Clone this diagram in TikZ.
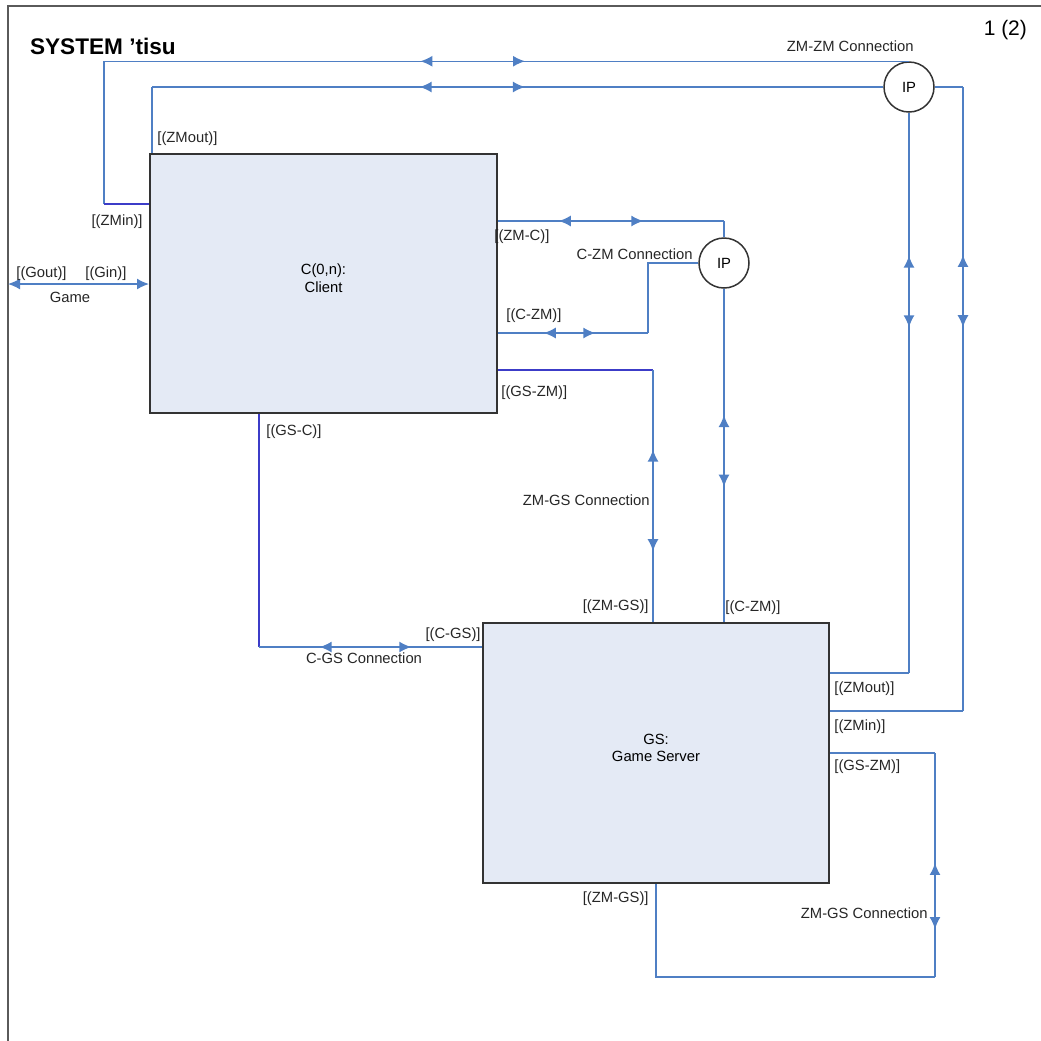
\documentclass[tikz,border=0pt]{standalone}
\usepackage{fontspec}
\setmainfont{Liberation Sans}
\usepackage{xcolor}
\usepackage{tikz}
\usetikzlibrary{arrows.meta,calc,positioning,fit,decorations.markings}
\definecolor{linkblue}{HTML}{4F7FC4}
\definecolor{portblue}{HTML}{3C3CC8}
\definecolor{boxfill}{HTML}{E4EAF5}
\definecolor{framegray}{HTML}{5A5A5A}
\newcommand{\lbl}{\fontsize{7.4}{8.8}\selectfont}
\tikzset{
  conn/.style={draw,color=linkblue,line width=0.75pt},
  twoway/.style 2 args={postaction={decorate,decoration={markings,
    mark=at position #1 with {\arrowreversed{Latex[length=6pt,width=5.5pt]}},
    mark=at position #2 with {\arrow{Latex[length=6pt,width=5.5pt]}}}}},
  block/.style={draw=black!80,line width=1pt,fill=boxfill,inner sep=0pt,align=center,font=\lbl},
  ipnode/.style={circle,draw=black!80,line width=0.75pt,fill=white,minimum size=25pt,inner sep=0pt,font=\lbl},
  port/.style={font=\lbl,inner sep=0pt,text=black!85},
}

\begin{document}
\begin{tikzpicture}[x=0.5pt,y=-0.5pt,>=Latex]
  \useasboundingbox (0,0) rectangle (1041,1041);
  \draw[framegray,line width=1pt] (8,1041) -- (8,6) -- (1041,6);
  \node[anchor=west,font=\fontsize{11.3}{13}\selectfont\bfseries] (title) at (23,46) {SYSTEM ’tisu};
  \node[anchor=east,font=\fontsize{10.5}{12}\selectfont] (page) at (1034,30) {1 (2)};

  % blocks and interaction points
  \node[block,fit={(150,154)(497,413)}] (client) {C(0,n):\\Client};
  \node[block,fit={(483,623)(829,883)}] (server) {GS:\\Game Server};
  \node[ipnode] (ipzz) at (909,87) {IP};
  \node[ipnode] (ipcz) at (724,263) {IP};

  \coordinate (zminC) at (104,204);
  \coordinate (zmoutC) at (152,87);
  \coordinate (zminS) at (963,711);
  \coordinate (zmoutS) at (909,673);
  \coordinate (zmc) at (724,221);
  \coordinate (czm) at (648,333);
  \coordinate (gszm) at (653,370);
  \coordinate (gsc) at (259,647);
  \coordinate (loopA) at (935,753);
  \coordinate (loopB) at (656,977);
  \coordinate (gameL) at (8,284);

  % ZM-ZM connection
  \draw[conn,twoway={0.477}{0.607}] (ipzz.north) -- (ipzz.north -| zminC);
  \draw[conn] (ipzz.north -| zminC) -- (zminC);
  \draw[conn,portblue] (zminC) -- (zminC -| client.west);
  \draw[conn,twoway={0.49}{0.634}] (ipzz.west) -- (zmoutC);
  \draw[conn] (zmoutC) -- (zmoutC |- client.north);
  \draw[conn] (ipzz.east) -- (ipzz.east -| zminS);
  \draw[conn,twoway={0.269}{0.385}] (ipzz.east -| zminS) -- (zminS);
  \draw[conn] (zminS) -- (zminS -| server.east);
  \draw[conn,twoway={0.255}{0.383}] (ipzz.south) -- (zmoutS);
  \draw[conn] (zmoutS) -- (zmoutS -| server.east);

  % C-ZM connection
  \draw[conn,twoway={0.269}{0.643}] (zmc -| client.east) -- (zmc);
  \draw[conn] (zmc) -- (ipcz.north);
  \draw[conn] (ipcz.west) -| (czm);
  \draw[conn,twoway={0.351}{0.695}] (czm) -- (czm -| client.east);
  \draw[conn,twoway={0.379}{0.594}] (ipcz.south) -- (ipcz.south |- server.north);

  % ZM-GS and C-GS connections
  \draw[conn,portblue] (gszm -| client.east) -- (gszm);
  \draw[conn,twoway={0.316}{0.719}] (gszm) -- (gszm |- server.north);
  \draw[conn,portblue] (gsc |- client.south) -- (gsc);
  \draw[conn,twoway={0.272}{0.683}] (gsc) -- (gsc -| server.west);
  \draw[conn,{Latex[length=6pt,width=5.5pt]}-{Latex[length=6pt,width=5.5pt]}] (gameL) -- (gameL -| client.west);
  \draw[conn] (loopA -| server.east) -- (loopA);
  \draw[conn,twoway={0.491}{0.786}] (loopA) -- (loopA |- loopB);
  \draw[conn] (loopA |- loopB) -- (loopB) -- (loopB |- server.south);

  % gate and connection labels
  \node[port,anchor=east] (lzmzm) at (914,46) {ZM-ZM Connection};
  \node[port,anchor=west] (lzmoutC) at (157,139) {[(ZMout)]};
  \node[port,anchor=east] (lzminC) at (143,222) {[(ZMin)]};
  \node[port,anchor=west] (lgout) at (16,274) {[(Gout)]};
  \node[port,anchor=west] (lgin) at (85,274) {[(Gin)]};
  \node[port] (lgame) at (70,297) {Game};
  \node[port,anchor=west] (lzmc) at (494,237) {[(ZM-C)]};
  \node[port,anchor=east] (lczmconn) at (693,254) {C-ZM Connection};
  \node[port,anchor=west] (lczmC) at (506,316) {[(C-ZM)]};
  \node[port,anchor=west] (lgszmC) at (501,393) {[(GS-ZM)]};
  \node[port,anchor=west] (lgsc) at (266,432) {[(GS-C)]};
  \node[port,anchor=east] (lzmgsconn) at (650,500) {ZM-GS Connection};
  \node[port,anchor=east] (lzmgsS) at (649,607) {[(ZM-GS)]};
  \node[port,anchor=west] (lczmS) at (725,608) {[(C-ZM)]};
  \node[port,anchor=east] (lcgs) at (481,635) {[(C-GS)]};
  \node[port] (lcgsconn) at (364,658) {C-GS Connection};
  \foreach \y/\t [count=\i] in {689/{[(ZMout)]},727/{[(ZMin)]},767/{[(GS-ZM)]}}
    \node[port,anchor=west] (gsport\i) at (834,\y) {\t};
  \node[port,anchor=east] (lzmgsB) at (649,899) {[(ZM-GS)]};
  \node[port,anchor=east] (lzmgsconn2) at (928,913) {ZM-GS Connection};
\end{tikzpicture}
\end{document}
